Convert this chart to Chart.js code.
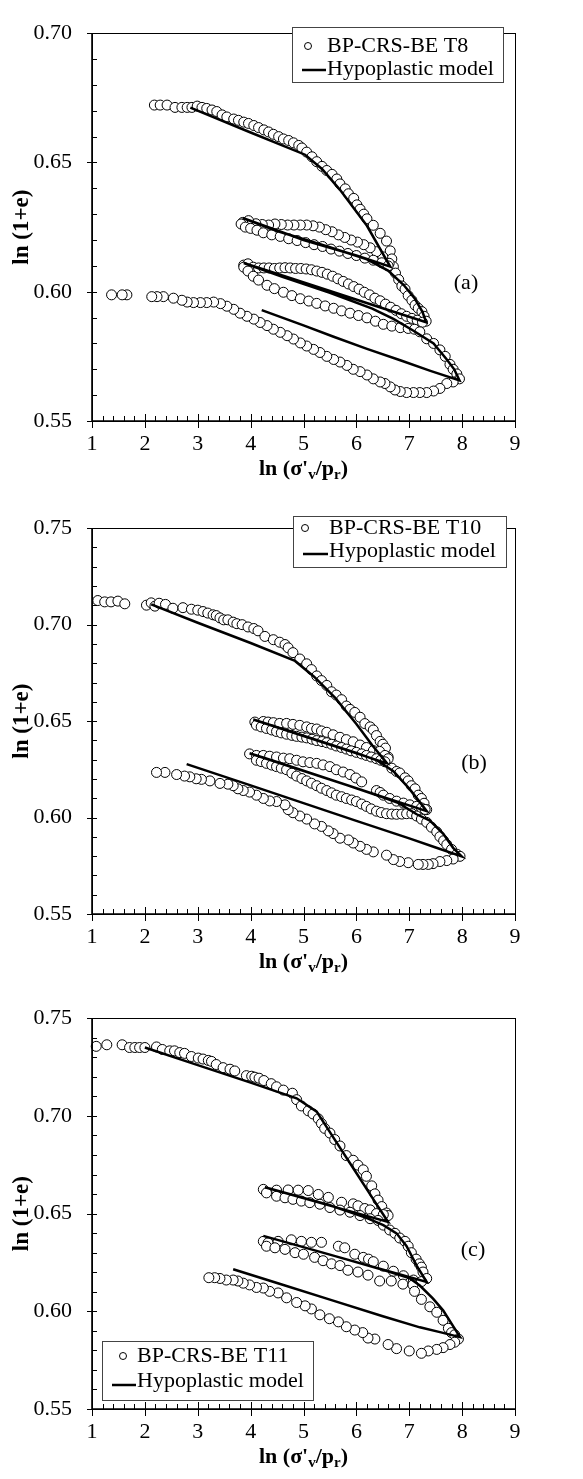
<!DOCTYPE html>
<html lang="en">
<head>
<meta charset="UTF-8">
<title>BP-CRS-BE tests vs hypoplastic model</title>
<style>
  html, body { margin: 0; padding: 0; background: #fff; }
  canvas { position: absolute; left: 0; }
</style>
</head>
<body>
<canvas id="chartA" width="583" height="495" style="top:0px"></canvas>
<canvas id="chartB" width="583" height="490" style="top:495px"></canvas>
<canvas id="chartC" width="583" height="494" style="top:985px"></canvas>

<script src="https://cdn.jsdelivr.net/npm/chart.js"></script>
<script>
// tick labels
const xTicks = [1, 2, 3, 4, 5, 6, 7, 8, 9];
const yTicksA = [0.55, 0.60, 0.65, 0.70];
const yTicksBC = [0.55, 0.60, 0.65, 0.70, 0.75];

// (a) BP-CRS-BE T8
const t8X = [2.18,2.29,2.42,2.57,2.70,2.80,2.89,2.99,3.08,3.17,3.27,3.36,3.46,3.55,3.68,3.77,3.87,3.96,4.06,4.15,4.25,4.34,4.43,4.53,4.62,4.72,4.81,4.91,4.97,5.06,5.16,5.25,5.35,5.44,5.54,5.63,5.69,5.79,5.85,5.95,6.01,6.07,6.14,6.20,6.32,6.45,6.57,6.64,6.67,6.70,
  6.62,6.50,6.38,6.26,6.14,6.02,5.90,5.78,5.66,5.54,5.42,5.30,5.18,5.06,4.94,4.82,4.70,4.58,4.46,4.34,4.22,4.10,3.96,3.85,
  3.82,3.90,4.00,4.12,4.24,4.40,4.56,4.72,4.88,5.04,5.20,5.36,5.52,5.68,5.84,6.00,6.16,6.32,6.48,6.60,
  6.74,6.80,6.86,6.92,6.98,7.05,7.11,7.17,7.24,7.28,7.32,
  3.87,3.95,4.05,4.15,4.25,4.35,4.45,4.55,4.65,4.75,4.85,4.95,5.05,5.15,5.25,5.35,5.45,5.55,5.65,5.75,5.85,5.95,6.05,6.15,6.25,6.35,6.45,6.55,6.65,6.75,6.85,6.95,7.05,7.15,7.25,
  3.87,3.95,4.05,4.15,4.31,4.45,4.62,4.78,4.94,5.10,5.25,5.41,5.57,5.72,5.88,6.04,6.20,6.36,6.51,6.67,6.83,6.98,7.10,
  7.20,7.33,7.46,7.58,7.68,7.77,7.83,7.90,7.95,
  7.83,7.71,7.58,7.46,7.33,7.20,7.08,6.95,6.83,6.73,6.64,6.54,6.45,6.32,6.20,6.07,5.94,5.82,5.69,5.57,5.44,5.31,5.19,5.06,4.94,4.81,4.69,4.56,4.43,4.31,4.18,4.06,3.93,3.80,3.68,3.55,3.43,3.30,3.17,3.05,2.92,2.80,2.70,2.54,2.35,2.23,2.13,1.66,1.57,1.37];
const t8Y = [.6722,.6722,.6722,.6713,.6713,.6713,.6713,.6718,.6713,.6709,.6703,.6697,.6684,.6676,.6668,.6663,.6656,.6651,.6643,.6635,.6626,.6618,.6609,.6600,.6591,.6585,.6576,.6566,.6556,.6540,.6522,.6503,.6485,.6469,.6454,.6436,.6417,.6398,.6379,.6361,.6336,.6319,.6300,.6282,.6257,.6226,.6196,.6158,.6127,.6097,
  .6110,.6135,.6155,.6170,.6182,.6192,.6200,.6210,.6220,.6232,.6240,.6250,.6255,.6258,.6258,.6258,.6258,.6260,.6262,.6258,.6260,.6263,.6275,.6268,
  .6262,.6250,.6245,.6238,.6228,.6220,.6214,.6205,.6198,.6190,.6182,.6175,.6165,.6157,.6148,.6140,.6130,.6122,.6112,.6100,
  .6072,.6047,.6022,.6010,.5985,.5967,.5948,.5936,.5923,.5905,.5886,
  .6103,.6108,.6095,.6092,.6092,.6092,.6090,.6092,.6093,.6092,.6090,.6090,.6088,.6085,.6080,.6075,.6068,.6060,.6050,.6040,.6030,.6020,.6010,.5998,.5988,.5975,.5965,.5952,.5940,.5928,.5915,.5905,.5897,.5890,.5882,
  .6095,.6080,.6060,.6045,.6025,.6012,.5998,.5985,.5973,.5964,.5955,.5945,.5936,.5926,.5917,.5908,.5899,.5886,.5874,.5867,.5861,.5858,.5855,
  .5845,.5818,.5800,.5775,.5750,.5719,.5700,.5682,.5663,
  .5651,.5645,.5626,.5616,.5610,.5610,.5610,.5610,.5614,.5620,.5632,.5645,.5651,.5663,.5678,.5691,.5700,.5715,.5728,.5738,.5750,.5765,.5777,.5790,.5802,.5817,.5830,.5843,.5855,.5869,.5881,.5894,.5905,.5917,.5932,.5944,.5954,.5960,.5958,.5958,.5958,.5960,.5967,.5975,.5981,.5981,.5981,.5988,.5988,.5988];
const t8ModelX = [2.86,4.00,5.03,5.35,5.69,6.20,6.64, 6.00,5.00,4.40,3.85, 4.50,5.50,6.20,6.60,6.90,7.10,7.25,7.32,
  6.50,5.50,4.60,3.87, 4.60,5.50,6.30,6.70,7.08,7.46,7.71,7.85,7.95, 7.40,6.83,6.20,5.57,5.00,4.21];
const t8ModelY = [.6712,.6616,.6530,.6475,.6394,.6255,.6097, .6140,.6200,.6245,.6285, .6235,.6172,.6125,.6082,.6025,.5975,.5922,.5882,
  .5936,.6003,.6063,.6111, .6058,.5996,.5935,.5895,.5849,.5800,.5738,.5700,.5657, .5694,.5735,.5779,.5826,.5870,.5929];

// (b) BP-CRS-BE T10
const t10X = [1.11,1.24,1.36,1.49,1.62,2.03,2.12,2.19,2.27,2.39,2.53,2.72,2.88,3.00,3.10,3.19,3.29,3.35,3.42,3.49,3.57,3.67,3.74,3.84,3.95,4.06,4.14,4.27,4.43,4.55,4.65,4.71,4.80,4.93,5.06,5.15,5.25,5.34,5.44,5.53,5.62,5.72,5.81,5.88,5.97,6.07,6.16,6.26,6.32,6.38,6.45,6.50,6.55,6.60,
  4.08,4.24,4.33,4.43,4.55,4.68,4.80,4.93,5.06,5.15,5.25,5.34,5.44,5.56,5.69,5.81,5.94,6.07,6.19,6.32,6.44,6.54,6.60,
  4.11,4.20,4.30,4.40,4.49,4.58,4.68,4.78,4.87,4.97,5.06,5.16,5.25,5.35,5.44,5.53,5.62,5.72,5.81,5.90,6.00,6.10,6.19,6.28,6.38,6.46,6.54,
  6.67,6.76,6.82,6.92,6.98,7.04,7.11,7.17,7.23,7.28,7.33,
  3.98,4.11,4.24,4.36,4.49,4.62,4.74,4.87,4.99,5.12,5.25,5.37,5.50,5.62,5.75,5.88,5.99,6.10,6.38,6.45,6.51,6.63,6.76,6.89,7.01,7.14,7.23,7.30,
  4.11,4.20,4.30,4.40,4.49,4.58,4.68,4.78,4.87,4.97,5.06,5.15,5.25,5.34,5.44,5.53,5.62,5.72,5.81,5.91,6.00,6.10,6.19,6.28,6.38,6.47,6.57,6.67,6.76,6.86,6.95,7.05,
  7.14,7.23,7.33,7.42,7.52,7.58,7.65,7.71,7.80,7.90,7.96,
  7.83,7.71,7.58,7.45,7.36,7.26,7.17,6.98,6.82,6.70,6.57,6.32,6.19,6.07,5.94,5.85,5.69,5.56,5.47,5.34,5.21,5.06,4.93,4.80,4.71,4.65,4.49,4.36,4.24,4.11,3.98,3.86,3.76,3.67,3.57,3.42,3.23,3.07,2.97,2.85,2.75,2.60,2.38,2.22];
const t10Y = [.7125,.7118,.7118,.7122,.7108,.7101,.7113,.7096,.7111,.7105,.7085,.7088,.7080,.7075,.7068,.7060,.7051,.7047,.7035,.7025,.7025,.7013,.7005,.7000,.6988,.6980,.6968,.6939,.6922,.6909,.6897,.6880,.6855,.6822,.6797,.6767,.6734,.6710,.6685,.6652,.6635,.6611,.6578,.6561,.6545,.6520,.6487,.6470,.6454,.6425,.6395,.6380,.6360,.6314,
  .6495,.6498,.6495,.6492,.6488,.6488,.6483,.6478,.6470,.6462,.6459,.6449,.6442,.6429,.6416,.6404,.6393,.6376,.6363,.6347,.6343,.6322,.6305,
  .6479,.6470,.6462,.6454,.6446,.6439,.6432,.6426,.6421,.6417,.6413,.6406,.6399,.6394,.6388,.6380,.6371,.6363,.6355,.6346,.6338,.6330,.6322,.6314,.6305,.6297,.6289,
  .6256,.6239,.6231,.6206,.6190,.6165,.6149,.6116,.6099,.6074,.6041,
  .6330,.6322,.6322,.6318,.6314,.6308,.6305,.6297,.6289,.6285,.6281,.6273,.6264,.6248,.6236,.6223,.6205,.6185,.6140,.6130,.6116,.6099,.6085,.6075,.6066,.6058,.6050,.6042,
  .6297,.6290,.6281,.6272,.6264,.6256,.6248,.6230,.6215,.6202,.6190,.6178,.6165,.6152,.6140,.6128,.6116,.6108,.6099,.6091,.6083,.6070,.6058,.6045,.6033,.6026,.6020,.6018,.6017,.6018,.6020,.6020,
  .6008,.5992,.5975,.5950,.5926,.5901,.5880,.5860,.5835,.5810,.5799,
  .5785,.5777,.5772,.5761,.5757,.5757,.5757,.5766,.5772,.5782,.5805,.5822,.5835,.5851,.5868,.5884,.5893,.5917,.5931,.5954,.5967,.5992,.6008,.6025,.6041,.6066,.6083,.6086,.6099,.6116,.6132,.6140,.6149,.6165,.6173,.6177,.6190,.6198,.6201,.6211,.6215,.6223,.6234,.6234];
const t10ModelX = [2.12,3.00,4.00,4.84,5.20,5.60,6.00,6.30,6.58, 5.80,5.00,4.05, 5.00,6.00,6.40,6.70,7.00,7.20,7.33,
  6.50,5.50,4.50,3.98, 4.50,5.50,6.50,6.80,7.14,7.39,7.64,7.83,7.99, 7.50,7.00,6.00,5.00,4.00,2.79];
const t10ModelY = [.7105,.7010,.6905,.6812,.6730,.6620,.6485,.6375,.6281, .6351,.6423,.6508, .6425,.6335,.6295,.6240,.6150,.6080,.6033,
  .6107,.6197,.6286,.6333, .6288,.6198,.6105,.6075,.6017,.5984,.5917,.5843,.5799, .5845,.5892,.5983,.6075,.6167,.6277];

// (c) BP-CRS-BE T11
const t11X = [1.08,1.28,1.57,1.71,1.81,1.90,2.00,2.22,2.33,2.47,2.56,2.66,2.75,2.88,3.01,3.10,3.20,3.26,3.35,3.48,3.61,3.70,3.92,4.02,4.08,4.16,4.25,4.39,4.49,4.62,4.79,4.87,4.96,5.09,5.18,5.28,5.34,5.40,5.50,5.59,5.69,5.81,5.94,6.03,6.13,6.19,6.29,6.35,6.41,6.48,6.57,6.60,
  4.24,4.49,4.71,4.90,5.09,5.28,5.47,5.72,5.94,6.03,6.16,6.26,6.38,6.51,
  4.30,4.49,4.65,4.80,4.96,5.12,5.31,5.50,5.69,5.88,6.07,6.26,6.41,6.51,
  6.63,6.73,6.82,6.92,6.98,7.04,7.13,7.19,7.23,7.26,7.33,
  4.24,4.33,4.52,4.77,4.96,5.15,5.34,5.66,5.78,5.97,6.13,6.23,6.32,6.51,6.70,6.89,7.08,7.23,
  4.30,4.46,4.65,4.84,5.00,5.21,5.37,5.53,5.69,5.84,6.03,6.22,6.44,6.66,6.88,7.07,
  7.10,7.23,7.39,7.52,7.64,7.74,7.80,7.86,7.93,
  7.86,7.77,7.64,7.52,7.36,7.23,7.00,6.76,6.60,6.35,6.22,6.12,5.97,5.81,5.66,5.49,5.31,5.15,5.03,4.87,4.68,4.52,4.36,4.24,4.11,3.98,3.86,3.76,3.67,3.54,3.42,3.32,3.21];
const t11Y = [.7356,.7364,.7364,.7350,.7350,.7350,.7350,.7353,.7340,.7333,.7333,.7324,.7320,.7304,.7296,.7291,.7284,.7279,.7263,.7247,.7239,.7230,.7206,.7203,.7198,.7193,.7181,.7165,.7149,.7132,.7116,.7083,.7051,.7026,.7010,.6985,.6961,.6936,.6912,.6879,.6846,.6797,.6773,.6748,.6724,.6691,.6642,.6601,.6569,.6536,.6503,.6490,
  .6624,.6620,.6621,.6620,.6618,.6598,.6583,.6558,.6550,.6540,.6526,.6519,.6500,.6495,
  .6606,.6589,.6581,.6573,.6564,.6556,.6548,.6531,.6518,.6507,.6490,.6474,.6465,.6441,
  .6416,.6399,.6375,.6358,.6333,.6300,.6267,.6243,.6226,.6201,.6168,
  .6358,.6350,.6358,.6366,.6358,.6353,.6353,.6333,.6325,.6292,.6276,.6267,.6254,.6231,.6205,.6182,.6160,.6152,
  .6333,.6325,.6317,.6300,.6292,.6276,.6259,.6243,.6234,.6210,.6201,.6185,.6155,.6155,.6139,.6135,
  .6102,.6061,.6023,.5995,.5954,.5913,.5891,.5880,.5858,
  .5842,.5830,.5814,.5805,.5797,.5785,.5797,.5809,.5830,.5858,.5863,.5891,.5904,.5921,.5946,.5962,.5982,.6012,.6028,.6045,.6069,.6094,.6102,.6119,.6122,.6135,.6144,.6155,.6160,.6160,.6168,.6172,.6172];
const t11ModelX = [2.00,3.00,4.00,4.87,5.25,5.60,6.00,6.30,6.60, 5.50,4.27, 5.50,6.19,6.51,6.76,6.95,7.14,7.33,
  5.80,4.24, 5.50,6.50,7.00,7.20,7.45,7.64,7.80,7.96, 7.60,7.20,6.50,5.50,4.50,3.67];
const t11ModelY = [.7350,.7260,.7170,.7090,.7022,.6875,.6708,.6582,.6457, .6541,.6635, .6543,.6478,.6441,.6399,.6333,.6234,.6150,
  .6267,.6386, .6290,.6212,.6170,.6132,.6065,.6005,.5937,.5868, .5892,.5918,.5975,.6060,.6145,.6215];

const FONT = '"Liberation Serif", "Times New Roman", serif';
Chart.defaults.font.family = FONT;
Chart.defaults.color = '#000';

function pts(xs, ys) {
  return xs.map((x, i) => ({ x: x, y: ys[i] }));
}

// frame, crossing major ticks, inside minor ticks, x title with subscripts, panel tag
const axesDeco = {
  id: 'axesDeco',
  afterDraw(chart, args, o) {
    const { ctx, chartArea: a, scales: { x, y } } = chart;
    ctx.save();
    ctx.strokeStyle = '#000';
    ctx.lineWidth = 1;
    ctx.strokeRect(Math.round(a.left) + 0.5, Math.round(a.top) + 0.5,
      Math.round(a.right - a.left), Math.round(a.bottom - a.top));
    ctx.lineWidth = 1.6;
    ctx.beginPath();
    ctx.moveTo(a.left, a.top);
    ctx.lineTo(a.left, a.bottom);
    ctx.lineTo(a.right, a.bottom);
    ctx.stroke();

    ctx.lineWidth = 1;
    ctx.beginPath();
    const ny = Math.round((y.max - y.min) / 0.01);
    for (let i = 0; i <= ny; i++) {
      const py = Math.round(y.getPixelForValue(y.min + i * 0.01)) + 0.5;
      const major = i % 5 === 0;
      ctx.moveTo(a.left - (major ? 5 : 0), py);
      ctx.lineTo(a.left + 5, py);
    }
    const nx = Math.round((x.max - x.min) / 0.2);
    for (let i = 0; i <= nx; i++) {
      const px = Math.round(x.getPixelForValue(x.min + i * 0.2)) + 0.5;
      const major = i % 5 === 0;
      ctx.moveTo(px, a.bottom + (major ? 7 : 0));
      ctx.lineTo(px, a.bottom - (major ? 7 : 5));
    }
    ctx.stroke();

    // x axis title: ln (σ'v/pr)
    const big = 'bold 22px ' + FONT, small = 'bold 15px ' + FONT;
    const parts = [["ln (\u03c3'", big, 0], ['v', small, 6], ['/p', big, 0], ['r', small, 6], [')', big, 0]];
    let w = 0;
    parts.forEach(p => { ctx.font = p[1]; w += ctx.measureText(p[0]).width; });
    let cx = (a.left + a.right) / 2 - w / 2;
    const cy = a.bottom + 48;
    ctx.fillStyle = '#000';
    ctx.textBaseline = 'middle';
    ctx.textAlign = 'left';
    parts.forEach(p => {
      ctx.font = p[1];
      ctx.fillText(p[0], cx, cy + p[2]);
      cx += ctx.measureText(p[0]).width;
    });

    ctx.font = '22px ' + FONT;
    ctx.textAlign = 'center';
    ctx.fillText(o.tag, o.tagX, o.tagY);
    ctx.restore();
  }
};

const boxLegend = {
  id: 'boxLegend',
  afterDraw(chart, args, o) {
    const ctx = chart.ctx;
    const [exp, mod] = chart.data.datasets;
    ctx.save();
    ctx.fillStyle = '#fff';
    ctx.fillRect(o.x, o.y, o.w, o.h);
    ctx.strokeStyle = '#444';
    ctx.lineWidth = 1;
    ctx.strokeRect(o.x + 0.5, o.y + 0.5, o.w, o.h);
    ctx.beginPath();
    ctx.arc(o.markX, o.row1, 3.5, 0, Math.PI * 2);
    ctx.fillStyle = '#fff';
    ctx.fill();
    ctx.strokeStyle = '#000';
    ctx.stroke();
    ctx.beginPath();
    ctx.moveTo(o.lineX0, o.lineY);
    ctx.lineTo(o.lineX1, o.lineY);
    ctx.lineWidth = 2.5;
    ctx.stroke();
    ctx.fillStyle = '#000';
    ctx.font = '22px ' + FONT;
    ctx.textBaseline = 'middle';
    ctx.textAlign = 'left';
    ctx.fillText(exp.label, o.textX, o.row1);
    ctx.fillText(mod.label, o.textX, o.row2);
    ctx.restore();
  }
};

function makeChart(id, expLabel, ex, ey, mx, my, yTicks, padTop, xHeight, legend, deco) {
  const ctx = document.getElementById(id).getContext('2d');
  return new Chart(ctx, {
    type: 'scatter',
    data: {
      datasets: [{
        label: expLabel,
        data: pts(ex, ey),
        pointStyle: 'circle',
        pointRadius: 5,
        pointBorderWidth: 1,
        pointBorderColor: '#000',
        pointBackgroundColor: '#fff',
        showLine: false,
        clip: false,
        order: 1
      }, {
        label: 'Hypoplastic model',
        data: pts(mx, my),
        showLine: true,
        borderColor: '#000',
        borderWidth: 2.5,
        pointRadius: 0,
        tension: 0,
        fill: false,
        clip: false,
        order: 0
      }]
    },
    options: {
      responsive: false,
      animation: false,
      layout: { padding: { top: padTop, right: 68, left: 0, bottom: 0 } },
      plugins: {
        legend: { display: false },
        tooltip: { enabled: false },
        boxLegend: legend,
        axesDeco: deco
      },
      scales: {
        x: {
          type: 'linear',
          min: xTicks[0],
          max: xTicks[xTicks.length - 1],
          afterBuildTicks: s => { s.ticks = xTicks.map(v => ({ value: v })); },
          afterFit: s => { s.height = xHeight; },
          grid: { drawOnChartArea: false, drawTicks: false },
          border: { display: false },
          ticks: { font: { size: 22 }, color: '#000', padding: 10, maxRotation: 0 }
        },
        y: {
          type: 'linear',
          min: yTicks[0],
          max: yTicks[yTicks.length - 1],
          afterBuildTicks: s => { s.ticks = yTicks.map(v => ({ value: v })); },
          afterFit: s => { s.width = 92; },
          grid: { drawOnChartArea: false, drawTicks: false },
          border: { display: false },
          ticks: { font: { size: 22 }, color: '#000', padding: 20, callback: v => v.toFixed(2) },
          title: { display: true, text: 'ln (1+e)', font: { size: 23, weight: 'bold' }, color: '#000', padding: { top: 8, bottom: 0 } }
        }
      }
    },
    plugins: [axesDeco, boxLegend]
  });
}

makeChart('chartA', 'BP-CRS-BE T8', t8X, t8Y, t8ModelX, t8ModelY, yTicksA, 17, 74,
  { x: 292, y: 27, w: 211, h: 55, row1: 46, row2: 69, markX: 308, lineX0: 302, lineX1: 326, lineY: 70, textX: 327 },
  { tag: '(a)', tagX: 466, tagY: 283 });

makeChart('chartB', 'BP-CRS-BE T10', t10X, t10Y, t10ModelX, t10ModelY, yTicksBC, 16, 71,
  { x: 293, y: 21, w: 213, h: 51, row1: 33, row2: 56, markX: 305, lineX0: 303, lineX1: 328, lineY: 59, textX: 329 },
  { tag: '(b)', tagX: 474, tagY: 268 });

makeChart('chartC', 'BP-CRS-BE T11', t11X, t11Y, t11ModelX, t11ModelY, yTicksBC, 18, 70,
  { x: 102, y: 356, w: 211, h: 59, row1: 371, row2: 396, markX: 123, lineX0: 112, lineX1: 136, lineY: 400, textX: 137 },
  { tag: '(c)', tagX: 473, tagY: 265 });
</script>
</body>
</html>
